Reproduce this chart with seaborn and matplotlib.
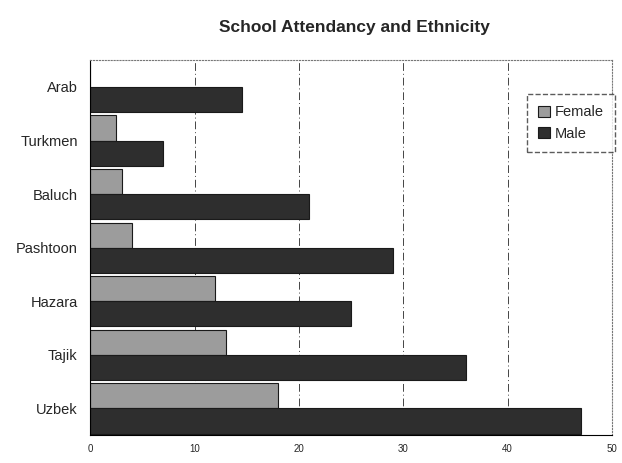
import pandas as pd
import seaborn as sns
import matplotlib.pyplot as plt

ethnic = ['Arab', 'Turkmen', 'Baluch', 'Pashtoon', 'Hazara', 'Tajik', 'Uzbek']
female = [0, 2.5, 3, 4, 12, 13, 18]
male = [14.5, 7, 21, 29, 25, 36, 47]

df = pd.DataFrame({'Ethnicity': ethnic * 2,
                   'Percent': female + male,
                   'Sex': ['Female'] * len(ethnic) + ['Male'] * len(ethnic)})

sns.set_style('white')
plt.rcParams['font.family'] = ['Liberation Sans', 'DejaVu Sans']

fig = plt.figure(figsize=(6.22, 4.63), dpi=100)
ax = fig.add_axes([0.145, 0.06, 0.839, 0.81])

sns.barplot(data=df, y='Ethnicity', x='Percent', hue='Sex', order=ethnic,
            hue_order=['Female', 'Male'], palette=['#9c9c9c', '#2e2e2e'],
            orient='h', width=0.94, edgecolor='#1a1a1a', linewidth=0.8, ax=ax)

ax.set_xlim(0, 50)
ax.set_xticks([0, 10, 20, 30, 40, 50])
ax.tick_params(axis='x', labelsize=7, length=3, direction='out')
ax.tick_params(axis='y', labelsize=10.5, length=3, pad=6)
ax.xaxis.grid(True, linestyle=(0, (8, 3, 1, 3)), color='#444444', linewidth=0.7)
ax.set_axisbelow(True)
ax.set_xlabel('')
ax.set_ylabel('')

for side in ['top', 'right']:
    ax.spines[side].set_linestyle(':')
    ax.spines[side].set_color('#777777')
    ax.spines[side].set_linewidth(0.8)
ax.spines['left'].set_color('black')
ax.spines['bottom'].set_color('black')

leg = ax.legend(loc='upper right', bbox_to_anchor=(1.02, 0.93), frameon=True,
                fontsize=10.5, handlelength=0.8, handleheight=0.8,
                handletextpad=0.3, borderpad=0.8, fancybox=False)
leg.get_frame().set_edgecolor('#333333')
leg.get_frame().set_linestyle('--')

fig.text(0.57, 0.93, 'School Attendancy and Ethnicity', ha='center',
         fontsize=12.5, fontweight='bold')

fig.savefig('out.png', dpi=100)
